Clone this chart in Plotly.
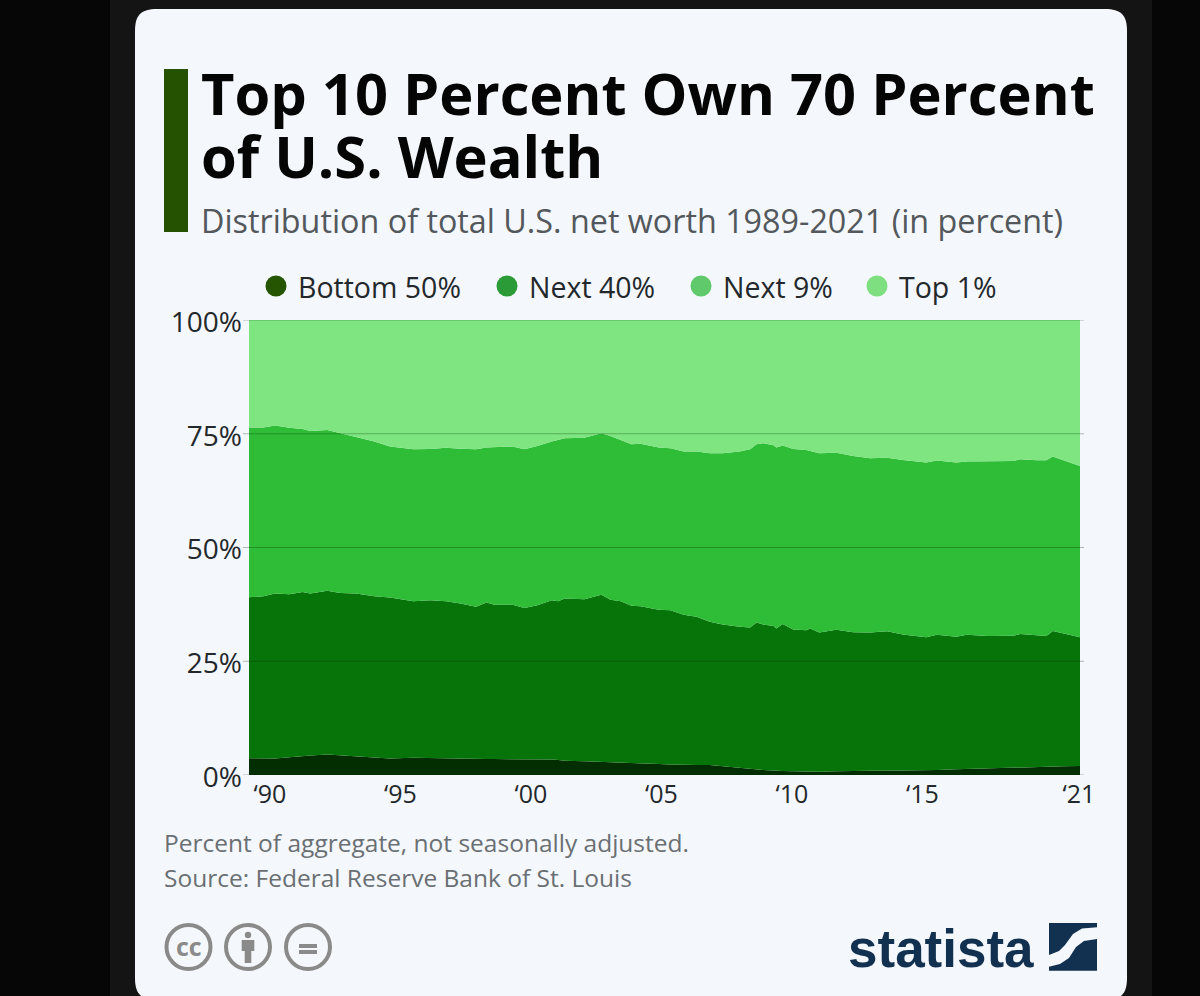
import numpy as np
import plotly.graph_objects as go

# Values
years = [1989.2, 1989.75, 1990.2, 1990.75, 1991.25, 1991.55, 1992.2, 1992.7, 1993.3, 1994.0, 1994.6,
         1995.5, 1996.15, 1996.75, 1997.3, 1997.9, 1998.3, 1998.6, 1999.3, 1999.75, 2000.25, 2000.8,
         2001.05, 2001.3, 2002.05, 2002.7, 2003.05, 2003.45, 2003.85, 2004.2, 2004.9, 2005.35, 2005.85,
         2006.35, 2006.85, 2007.35, 2008.0, 2008.4, 2008.65, 2008.9, 2009.3, 2009.4, 2009.65, 2010.05,
         2010.55, 2010.7, 2011.05, 2011.7, 2012.35, 2013.0, 2013.65, 2014.25, 2015.15, 2015.55, 2016.3,
         2016.7, 2017.5, 2018.5, 2018.75, 2019.4, 2019.75, 2020.0, 2020.4, 2021.04]

# Upper edge of each band, in percent
bottom_50_edge = [3.7, 3.6, 3.6, 3.9, 4.2, 4.3, 4.5, 4.3, 4.0, 3.7, 3.6,
                  3.8, 3.7, 3.65, 3.6, 3.55, 3.5, 3.5, 3.5, 3.5, 3.5, 3.4,
                  3.3, 3.15, 3.0, 2.9, 2.8, 2.7, 2.6, 2.55, 2.4, 2.3, 2.2,
                  2.2, 2.2, 1.9, 1.55, 1.3, 1.2, 1.1, 1.0, 1.0, 0.9, 0.8,
                  0.75, 0.75, 0.7, 0.8, 0.9, 0.95, 1.0, 1.0, 1.0, 1.1, 1.25,
                  1.3, 1.4, 1.55, 1.6, 1.7, 1.8, 1.8, 1.9, 2.0]
next_40_edge = [39.05, 39.3, 39.9, 39.7, 40.2, 39.9, 40.5, 40.0, 39.9, 39.3, 39.0,
                38.2, 38.4, 38.2, 37.7, 37.0, 37.9, 37.4, 37.4, 36.7, 37.3, 38.4,
                38.2, 38.8, 38.6, 39.6, 38.5, 38.2, 37.2, 37.1, 36.3, 36.2, 35.2,
                34.8, 33.7, 33.1, 32.6, 32.4, 33.5, 33.1, 32.75, 32.2, 33.2, 32.0,
                31.8, 32.2, 31.3, 31.9, 31.4, 31.3, 31.6, 30.9, 30.3, 30.8, 30.4,
                30.8, 30.55, 30.6, 31.0, 30.8, 30.55, 31.65, 31.1, 30.25]
next_9_edge = [76.4, 76.4, 76.8, 76.3, 76.05, 75.6, 75.8, 75.1, 74.2, 73.3, 72.2,
               71.6, 71.65, 71.9, 71.7, 71.6, 72.0, 72.1, 72.2, 71.6, 72.3, 73.3,
               73.7, 74.0, 74.1, 75.1, 74.5, 73.6, 72.7, 72.8, 72.0, 71.8, 71.1,
               71.1, 70.7, 70.7, 71.1, 71.6, 72.7, 72.9, 72.5, 72.0, 72.4, 71.65,
               71.45, 71.2, 70.7, 70.85, 70.1, 69.6, 69.75, 69.25, 68.7, 69.1, 68.7,
               68.9, 68.9, 69.0, 69.4, 69.15, 69.2, 70.0, 69.2, 67.9]

series_names = ['Bottom 50%', 'Next 40%', 'Next 9%', 'Top 1%']
area_colors = ['#032e02', '#077409', '#2fbc37', '#7ee580']
legend_colors = ['#265500', '#2b9b37', '#5fc96b', '#7edf80']
legend_dot_x = [276, 507, 701, 877]

x_tick_vals = [1990, 1995, 2000, 2005, 2010, 2015, 2021]
x_tick_text = ['‘90', '‘95', '‘00', '‘05', '‘10', '‘15', '‘21']
y_tick_vals = [0, 25, 50, 75, 100]
y_tick_text = ['0%', '25%', '50%', '75%', '100%']

FONT = 'Open Sans'
PLOT_L, PLOT_R, PLOT_T, PLOT_B = 249, 1080, 320, 775

# Shares come from the differences between the band edges
edges = np.array([bottom_50_edge, next_40_edge, next_9_edge, [100.0] * len(years)])
shares = np.diff(edges, axis=0, prepend=0)


# Page pixels to paper coordinates, used for everything outside the plot
def px(x):
    return (x - PLOT_L) / (PLOT_R - PLOT_L)


def py(y):
    return (PLOT_B - y) / (PLOT_B - PLOT_T)


def pt(x, y):
    return f'{px(x):.5f},{py(y):.5f}'


def polygon(points):
    return 'M' + ' L'.join(pt(x, y) for x, y in points) + ' Z'


def rect(x0, y0, x1, y1, color, layer='below'):
    return dict(type='rect', xref='paper', yref='paper', x0=px(x0), x1=px(x1), y0=py(y0), y1=py(y1),
                fillcolor=color, line_width=0, layer=layer)


def text(x, y, s, size, color, bold=False, anchor='left', family=FONT):
    return dict(xref='paper', yref='paper', x=px(x), y=py(y), text=f'<b>{s}</b>' if bold else s,
                showarrow=False, xanchor=anchor, yanchor='middle', align='left',
                font=dict(family=family, size=size, color=color))


fig = go.Figure()

# Stacked areas
for i, name in enumerate(series_names):
    fig.add_trace(go.Scatter(x=years, y=shares[i], name=name, mode='lines', stackgroup='one',
                             line=dict(width=0), fillcolor=area_colors[i], showlegend=False))

# Page background and card
card = (f'M{pt(135, 31)} C{pt(135, 15)} {pt(141, 9)} {pt(157, 9)} L{pt(1105, 9)} '
        f'C{pt(1121, 9)} {pt(1127, 15)} {pt(1127, 31)} L{pt(1127, 978)} '
        f'C{pt(1127, 994)} {pt(1121, 1000)} {pt(1105, 1000)} L{pt(157, 1000)} '
        f'C{pt(141, 1000)} {pt(135, 994)} {pt(135, 978)} Z')
shapes = [
    rect(0, 0, 1200, 996, '#060606'),
    rect(110, 0, 1152, 996, '#141414'),
    dict(type='path', xref='paper', yref='paper', layer='below', fillcolor='#f4f7fb', line_width=0, path=card),
    # Title bar
    rect(164, 69, 188, 232, '#245200'),
]

# Gridlines sit on top of the areas
for v in y_tick_vals:
    shapes.append(dict(type='line', xref='paper', yref='y', x0=px(243), x1=px(1084), y0=v, y1=v,
                       line=dict(color='rgba(0,40,0,0.3)', width=1.2), layer='above'))

# Legend dots
for x, color in zip(legend_dot_x, legend_colors):
    shapes.append(dict(type='circle', xref='paper', yref='paper', x0=px(x - 10.5), x1=px(x + 10.5),
                       y0=py(286 + 10.5), y1=py(286 - 10.5), fillcolor=color, line_width=0))

# Licence icons
ICON_GRAY = '#8a8a8a'
for cx in [188.5, 248, 308]:
    shapes.append(dict(type='circle', xref='paper', yref='paper', x0=px(cx - 22), x1=px(cx + 22),
                       y0=py(947 + 22), y1=py(947 - 22), line=dict(color=ICON_GRAY, width=4)))
shapes.append(dict(type='circle', xref='paper', yref='paper', x0=px(244.8), x1=px(251.2), y0=py(938.2), y1=py(931.8),
                   fillcolor=ICON_GRAY, line_width=0))
shapes.append(rect(241.7, 940, 254.3, 951, ICON_GRAY, 'above'))
shapes.append(rect(244.7, 951, 251.3, 963, ICON_GRAY, 'above'))
shapes.append(rect(299, 944, 317, 948, ICON_GRAY, 'above'))
shapes.append(rect(299, 950, 317, 954, ICON_GRAY, 'above'))

# Statista mark
LOGO = '#12304f'
shapes.append(dict(type='path', xref='paper', yref='paper', fillcolor=LOGO, line_width=0,
                   path=polygon([(1049, 923), (1097, 923), (1097, 927.3), (1082, 928.5), (1073, 934), (1065, 945),
                                 (1059, 951), (1049, 955)])))
shapes.append(dict(type='path', xref='paper', yref='paper', fillcolor=LOGO, line_width=0,
                   path=polygon([(1097, 939), (1097, 970.7), (1049, 970.7), (1049, 966.7), (1060, 964), (1069, 958),
                                 (1076, 947), (1084, 941)])))

annotations = [
    text(199, 92, 'Top 10 Percent Own 70 Percent', 57.8, '#050505', bold=True),
    text(199, 156, 'of U.S. Wealth', 57.8, '#050505', bold=True),
    text(199, 220, 'Distribution of total U.S. net worth 1989-2021 (in percent)', 32.3, '#53585c'),
    text(162, 842, 'Percent of aggregate, not seasonally adjusted.', 24.5, '#6a6f73'),
    text(162, 877, 'Source: Federal Reserve Bank of St. Louis', 24.5, '#6a6f73'),
    text(188.5, 946, 'cc', 25, ICON_GRAY, bold=True, anchor='center'),
    text(1036, 948, 'statista', 53, LOGO, bold=True, anchor='right', family='Liberation Sans'),
]
for x, name in zip(legend_dot_x, series_names):
    annotations.append(text(x + 20, 287, name, 28.5, '#23282c'))

fig.update_layout(
    width=1200, height=996, autosize=False,
    margin=dict(l=PLOT_L, r=1200 - PLOT_R, t=PLOT_T, b=996 - PLOT_B, pad=0),
    paper_bgcolor='#060606', plot_bgcolor='rgba(0,0,0,0)',
    showlegend=False, shapes=shapes, annotations=annotations,
    font=dict(family=FONT, color='#23282c'),
    xaxis=dict(range=[1989.2, 2021.04], tickvals=x_tick_vals, ticktext=x_tick_text, showgrid=False, zeroline=False,
               ticks='', showline=False, ticklabelstandoff=2, tickfont=dict(size=25, color='#23282c')),
    yaxis=dict(range=[0, 100], tickvals=y_tick_vals, ticktext=y_tick_text, showgrid=False, zeroline=False,
               ticks='', showline=False, ticklabelstandoff=6, ticklabelshift=2, tickfont=dict(size=28, color='#23282c')),
)

fig.write_html('out.html', config=dict(displayModeBar=False), post_script="document.body.style.margin='0';")
